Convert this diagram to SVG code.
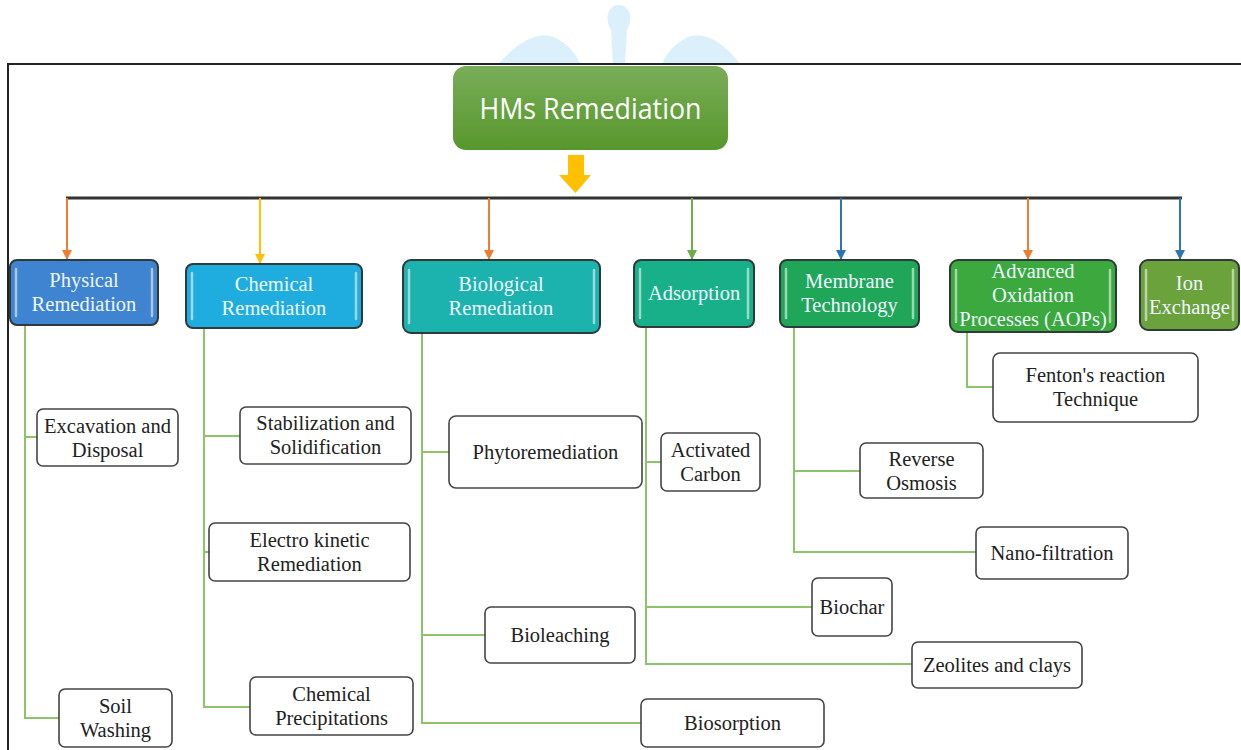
<svg xmlns="http://www.w3.org/2000/svg" width="1241" height="750" viewBox="0 0 1241 750">
<defs>
<style>
.cat{stroke:#2f3a3a;stroke-width:2}
.hl{stroke:#ffffff;stroke-opacity:0.55;stroke-width:2.5;stroke-linecap:round}
.ct{font-family:'Liberation Serif','DejaVu Serif',serif;font-size:20.5px;fill:#eef7ff;text-anchor:middle}
.leaf{fill:#ffffff;stroke:#444;stroke-width:1.6}
.lt{font-family:'Liberation Serif','DejaVu Serif',serif;font-size:20.5px;fill:#222;text-anchor:middle}
.tr{fill:none;stroke:#8cc36b;stroke-width:2}
.drop{stroke-width:2;fill:none}
</style>
<linearGradient id="gRoot" x1="0" y1="0" x2="0" y2="1">
<stop offset="0" stop-color="#79ad58"/>
<stop offset="1" stop-color="#57972c"/>
</linearGradient>
<marker id="mO" viewBox="0 0 10 10" refX="9" refY="5" markerWidth="5" markerHeight="5" orient="auto"><path d="M0,0 L10,5 L0,10 z" fill="#ed7d31"/></marker>
<marker id="mY" viewBox="0 0 10 10" refX="9" refY="5" markerWidth="5" markerHeight="5" orient="auto"><path d="M0,0 L10,5 L0,10 z" fill="#ffc000"/></marker>
<marker id="mG" viewBox="0 0 10 10" refX="9" refY="5" markerWidth="5" markerHeight="5" orient="auto"><path d="M0,0 L10,5 L0,10 z" fill="#70ad47"/></marker>
<marker id="mB" viewBox="0 0 10 10" refX="9" refY="5" markerWidth="5" markerHeight="5" orient="auto"><path d="M0,0 L10,5 L0,10 z" fill="#2e75b6"/></marker>
</defs>
<rect width="1241" height="750" fill="#ffffff"/>
<g id="watermark" fill="#dcf0fc">
<path d="M498,64 C520,40 540,30 556,38 C568,44 576,54 580,64 Z"/>
<path d="M662,64 C666,54 674,44 686,38 C702,30 722,40 740,64 Z"/>
<path d="M611,30 C604,18 608,5 619,5 C630,5 634,18 627,30 L625,64 L613,64 Z"/>
</g>
<g id="frame" fill="none" stroke="#222" stroke-width="2">
<path d="M8,750 L8,64 L1241,64"/>
</g>
<g id="connectors">
<line x1="66" y1="198" x2="1182" y2="198" stroke="#333" stroke-width="3"/>
<path d="M568,155 H584 V175 H591 L575.5,193 L559,175 H568 Z" fill="#ffc000"/>
<line class="drop" x1="67" y1="198" x2="67" y2="259" stroke="#ed7d31" marker-end="url(#mO)"/>
<line class="drop" x1="260" y1="198" x2="260" y2="263" stroke="#ffc000" marker-end="url(#mY)"/>
<line class="drop" x1="489" y1="198" x2="489" y2="259" stroke="#ed7d31" marker-end="url(#mO)"/>
<line class="drop" x1="692" y1="198" x2="692" y2="259" stroke="#70ad47" marker-end="url(#mG)"/>
<line class="drop" x1="841" y1="198" x2="841" y2="259" stroke="#2e75b6" marker-end="url(#mB)"/>
<line class="drop" x1="1028" y1="198" x2="1028" y2="259" stroke="#ed7d31" marker-end="url(#mO)"/>
<line class="drop" x1="1180" y1="198" x2="1180" y2="259" stroke="#2e75b6" marker-end="url(#mB)"/>
<path class="tr" d="M25,325 V718 H59 M25,437 H37"/>
<path class="tr" d="M204,328 V707 H250 M204,436 H240 M204,552 H209"/>
<path class="tr" d="M422,333 V723 H641 M422,452 H449 M422,635 H485"/>
<path class="tr" d="M646,327 V664 H912 M646,462 H661 M646,607 H812"/>
<path class="tr" d="M794,327 V552 H976 M794,471 H860"/>
<path class="tr" d="M967,332 V387 H993"/>
</g>
<g id="root">
<rect x="453" y="66" width="275" height="84" rx="13" fill="url(#gRoot)"/>
<text x="590.5" y="119" font-family="'Open Sans','Noto Sans',sans-serif" font-size="29" fill="#ffffff" text-anchor="middle" textLength="222" lengthAdjust="spacingAndGlyphs">HMs Remediation</text>
</g>
<g id="physical">
<rect class="cat" x="10" y="260" width="148" height="65" rx="7" fill="#3f84d1"/>
<line class="hl" x1="16" y1="269" x2="16" y2="316"/><line class="hl" x1="152" y1="269" x2="152" y2="316"/>
<text class="ct" x="84" y="287">Physical</text><text class="ct" x="84" y="311">Remediation</text>
</g>
<g id="chemical">
<rect class="cat" x="186" y="264" width="176" height="64" rx="7" fill="#1fade0"/>
<line class="hl" x1="192" y1="273" x2="192" y2="319"/><line class="hl" x1="356" y1="273" x2="356" y2="319"/>
<text class="ct" x="274" y="291">Chemical</text><text class="ct" x="274" y="315">Remediation</text>
</g>
<g id="biological">
<rect class="cat" x="403" y="260" width="197" height="73" rx="8" fill="#1cb2ae"/>
<line class="hl" x1="409" y1="270" x2="409" y2="323"/><line class="hl" x1="594" y1="270" x2="594" y2="323"/>
<text class="ct" x="501" y="291">Biological</text><text class="ct" x="501" y="315">Remediation</text>
</g>
<g id="adsorption">
<rect class="cat" x="634" y="260" width="120" height="67" rx="7" fill="#17b089"/>
<line class="hl" x1="640" y1="269" x2="640" y2="318"/><line class="hl" x1="748" y1="269" x2="748" y2="318"/>
<text class="ct" x="694" y="300">Adsorption</text>
</g>
<g id="membrane">
<rect class="cat" x="780" y="260" width="139" height="67" rx="7" fill="#20a658"/>
<line class="hl" x1="786" y1="269" x2="786" y2="318"/><line class="hl" x1="913" y1="269" x2="913" y2="318"/>
<text class="ct" x="849.5" y="288">Membrane</text><text class="ct" x="849.5" y="312">Technology</text>
</g>
<g id="aops">
<rect class="cat" x="950" y="260" width="166" height="72" rx="8" fill="#3ba93d"/>
<line class="hl" x1="956" y1="270" x2="956" y2="322"/><line class="hl" x1="1110" y1="270" x2="1110" y2="322"/>
<text class="ct" x="1033" y="278">Advanced</text><text class="ct" x="1033" y="302">Oxidation</text><text class="ct" x="1033" y="326">Processes (AOPs)</text>
</g>
<g id="ion">
<rect class="cat" x="1140" y="260" width="99" height="70" rx="8" fill="#6ba23c"/>
<line class="hl" x1="1146" y1="270" x2="1146" y2="320"/><line class="hl" x1="1233" y1="270" x2="1233" y2="320"/>
<text class="ct" x="1189.5" y="290">Ion</text><text class="ct" x="1189.5" y="314">Exchange</text>
</g>
<g id="excavation"><rect class="leaf" x="37" y="409" width="141" height="57" rx="6"/><text class="lt" x="107.5" y="433">Excavation and</text><text class="lt" x="107.5" y="457">Disposal</text></g>
<g id="soilwashing"><rect class="leaf" x="59" y="689" width="113" height="58" rx="6"/><text class="lt" x="115.5" y="713">Soil</text><text class="lt" x="115.5" y="737">Washing</text></g>
<g id="stabilization"><rect class="leaf" x="240" y="407" width="171" height="57" rx="6"/><text class="lt" x="325.5" y="430">Stabilization and</text><text class="lt" x="325.5" y="454">Solidification</text></g>
<g id="electrokinetic"><rect class="leaf" x="209" y="523" width="201" height="58" rx="6"/><text class="lt" x="309.5" y="547">Electro kinetic</text><text class="lt" x="309.5" y="571">Remediation</text></g>
<g id="chemprecip"><rect class="leaf" x="250" y="677" width="163" height="58" rx="6"/><text class="lt" x="331.5" y="701">Chemical</text><text class="lt" x="331.5" y="725">Precipitations</text></g>
<g id="phytoremediation"><rect class="leaf" x="449" y="416" width="193" height="72" rx="7"/><text class="lt" x="545.5" y="459">Phytoremediation</text></g>
<g id="bioleaching"><rect class="leaf" x="485" y="607" width="150" height="56" rx="6"/><text class="lt" x="560" y="642">Bioleaching</text></g>
<g id="biosorption"><rect class="leaf" x="641" y="699" width="183" height="48" rx="6"/><text class="lt" x="732.5" y="730">Biosorption</text></g>
<g id="activatedcarbon"><rect class="leaf" x="661" y="433" width="99" height="58" rx="6"/><text class="lt" x="710.5" y="457">Activated</text><text class="lt" x="710.5" y="481">Carbon</text></g>
<g id="biochar"><rect class="leaf" x="812" y="578" width="80" height="58" rx="6"/><text class="lt" x="852" y="614">Biochar</text></g>
<g id="zeolites"><rect class="leaf" x="912" y="642" width="170" height="46" rx="6"/><text class="lt" x="997" y="672">Zeolites and clays</text></g>
<g id="reverseosmosis"><rect class="leaf" x="860" y="443" width="123" height="55" rx="6"/><text class="lt" x="921.5" y="466">Reverse</text><text class="lt" x="921.5" y="490">Osmosis</text></g>
<g id="nanofiltration"><rect class="leaf" x="976" y="527" width="152" height="52" rx="6"/><text class="lt" x="1052" y="560">Nano-filtration</text></g>
<g id="fenton"><rect class="leaf" x="993" y="353" width="205" height="69" rx="7"/><text class="lt" x="1095.5" y="382">Fenton's reaction</text><text class="lt" x="1095.5" y="406">Technique</text></g>
</svg>
